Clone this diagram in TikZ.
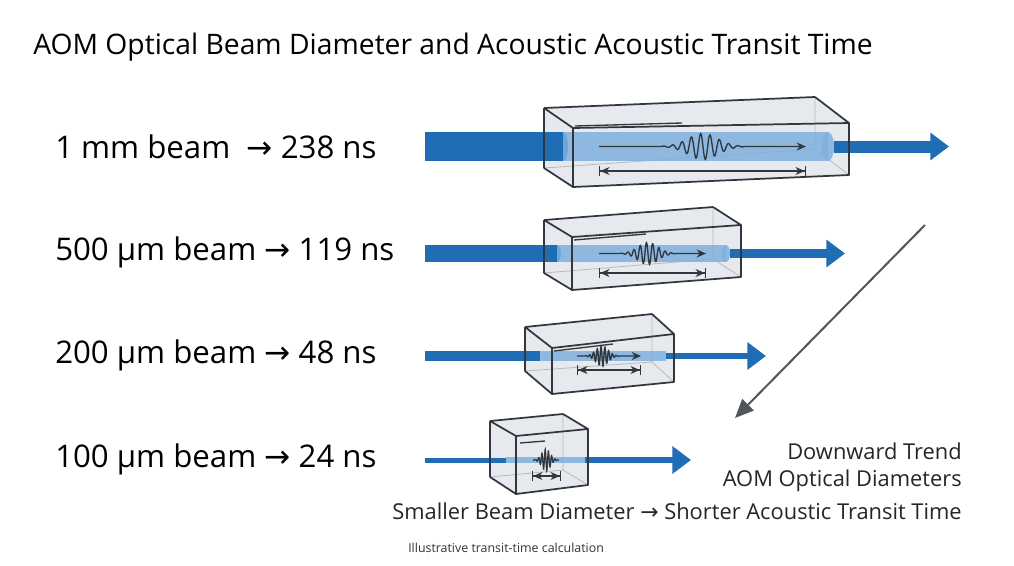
\documentclass[tikz,border=0pt]{standalone}
\usepackage{fontspec}
\setmainfont{Open Sans}
\newfontfamily\arr{DejaVu Sans}
\usetikzlibrary{calc,arrows.meta}
\definecolor{beamdark}{HTML}{1F6DB5}
\definecolor{beamlight}{HTML}{7FB0DE}
\definecolor{edge}{HTML}{32373D}
\definecolor{boxfill}{HTML}{E2E6EA}
\newcommand\ar{{\arr →}}
\newcommand\aombox[8]{%
  \coordinate (#1btl) at #2; \coordinate (#1btr) at #3;
  \coordinate (#1ftl) at #4; \coordinate (#1ftr) at #5;
  \coordinate (#1fbl) at #6; \coordinate (#1fbr) at #7;
  \coordinate (#1bbl) at #8;
  \coordinate (#1bbr) at ($(#1btr)+(#1fbr)-(#1ftr)$);
  \fill[boxfill,opacity=.85] (#1btl)--(#1btr)--(#1ftr)--(#1fbr)--(#1fbl)--(#1bbl)--cycle;
  \draw[hidden] (#1bbl)--(#1bbr)--(#1btr) (#1bbr)--(#1fbr);}
\newcommand\aomfront[1]{%
  \draw[boxedge] (#1ftl)--(#1ftr)--(#1fbr)--(#1fbl)--cycle
    (#1btl)--(#1ftl) (#1btr)--(#1ftr) (#1bbl)--(#1fbl) (#1btl)--(#1btr) (#1btl)--(#1bbl);}
\newcommand\wave[6]{% x1 x2 y center halfwidth amp
  \draw[wavest] (#1,#3) -- ({#4-#5},#3)
    plot[domain=-1:1,samples=160] ({#4+#5*\x},{#3+#6*exp(-(2*\x)^2)*sin(\x*9*180)})
    -- (#2,#3);}
\begin{document}
\begin{tikzpicture}[x=0.75pt,y=-0.75pt,
  hidden/.style={draw=gray!55,line width=0.6pt},
  boxedge/.style={draw=edge,line width=1.3pt,line join=round},
  wavest/.style={draw=edge,line width=1pt,-{Stealth[length=7pt,width=6pt]}},
  dim/.style={draw=edge,line width=0.9pt,{Bar[width=7pt]Stealth[length=7pt,width=6pt]}-{Stealth[length=7pt,width=6pt]Bar[width=7pt]}},
  lab/.style={anchor=west,font=\fontsize{23.4pt}{26pt}\selectfont,text=black,inner sep=0},
  note/.style={anchor=east,font=\fontsize{16.4pt}{18pt}\selectfont,text=black!85,inner sep=0},
  outbeam/.style={draw=beamdark,-{Triangle[length=14pt,width=20pt]}},
  trans/.style={draw=edge,line width=1pt}]
\useasboundingbox (0,0) rectangle (1014,565);
\fill[white] (0,0) rectangle (1014,565);
\node[anchor=west,inner sep=0,font=\fontsize{21.2pt}{23pt}\selectfont] (title) at (33,47) {AOM Optical Beam Diameter and Acoustic Acoustic Transit Time};
\node[lab] (l1) at (55,147) {1 mm beam \ \ar\ 238 ns};
\node[lab] (l2) at (55,252) {500 µm beam \ar\ 119 ns};
\node[lab] (l3) at (55,355) {200 µm beam \ar\ 48 ns};
\node[lab] (l4) at (55,459) {100 µm beam \ar\ 24 ns};
% box 1
\aombox{a}{(544,108)}{(815,97)}{(573,128)}{(849,123)}{(573,187)}{(849,175)}{(544,168)}
\fill[beamdark] (425,132) rectangle (563,161);
\fill[beamdark] (563,146.5) ellipse (5 and 14.5);
\fill[beamlight,opacity=.85] (563,132) rectangle (828,161);
\fill[beamlight,opacity=.85] (828,146.5) ellipse (6 and 14.5);
\draw[outbeam,line width=9pt] (834,146.5) coordinate (a1) -- (949,146.5) coordinate (a2);
\draw[trans] (575,126)--(682,123);
\wave{599}{806}{146.5}{703}{42}{13}
\draw[dim] (599,171)--(806,171);
\aomfront{a}
% box 2
\aombox{b}{(544,220)}{(713,207)}{(572,237)}{(741,225)}{(572,290)}{(741,277)}{(544,273)}
\fill[beamdark] (425,245) rectangle (557,262);
\fill[beamdark] (557,253.5) ellipse (4 and 8.5);
\fill[beamlight,opacity=.85] (557,245) rectangle (726,262);
\fill[beamlight,opacity=.85] (726,253.5) ellipse (4 and 8.5);
\draw[outbeam,line width=7pt] (730,253.5) coordinate (b1) -- (845,253.5) coordinate (b2);
\draw[trans] (574,240)--(646,234);
\wave{599}{706}{253.5}{648}{28}{11}
\draw[dim] (599,273)--(706,273);
\aomfront{b}
% box 3
\aombox{c}{(525,327)}{(652,314)}{(552,348)}{(674,334)}{(552,394)}{(674,382)}{(525,371)}
\fill[beamdark] (425,351) rectangle (540,361);
\fill[beamlight,opacity=.85] (540,351) rectangle (666,361);
\draw[outbeam,line width=5pt] (666,356) coordinate (c1) -- (766,356) coordinate (c2);
\draw[trans] (554,351)--(613,344);
\wave{577}{641}{356}{602}{17}{10}
\draw[dim] (577,370)--(641,370);
\aomfront{c}
% box 4
\aombox{d}{(490,421)}{(563,414)}{(516,436)}{(588,429)}{(516,494)}{(588,485)}{(490,477)}
\fill[beamdark] (425,457.5) rectangle (506,462.5);
\fill[beamlight,opacity=.85] (506,457) rectangle (585,463);
\draw[outbeam,line width=4pt] (585,460) coordinate (d1) -- (691,460) coordinate (d2);
\draw[trans] (520,443)--(545,441);
\draw[edge,line width=0.9pt] plot[domain=-1:1,samples=120] ({546+13*\x},{460+11*exp(-(2.2*\x)^2)*sin(\x*8*180)});
\draw[dim] (532,476)--(561,476);
\aomfront{d}
% trend arrow
\coordinate (t1) at (925,225);
\coordinate (t2) at (735,418);
\draw[draw=edge!85,line width=1.5pt,-{Triangle[length=14pt,width=12pt]}] (t1) -- (t2);
\node[note] (n1) at (962,451) {Downward Trend};
\node[note] (n2) at (962,481) {AOM Optical Diameters};
\node[note] (n3) at (962,511) {Smaller Beam Diameter \ar\ Shorter Acoustic Transit Time};
\node[anchor=west,inner sep=0,font=\fontsize{9.3pt}{11pt}\selectfont,text=black!80] (fn) at (408,548) {Illustrative transit-time calculation};
\end{tikzpicture}
\end{document}
